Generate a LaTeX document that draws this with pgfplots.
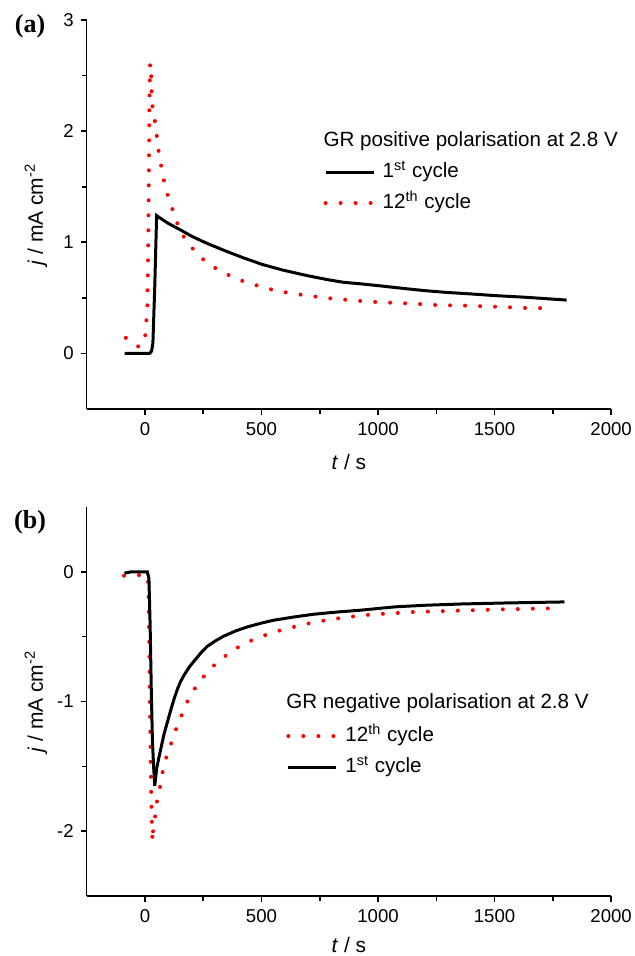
\documentclass[border=0pt]{standalone}
\usepackage{fontspec}
\setmainfont{Liberation Sans}
\newfontfamily\serifbf{Liberation Serif}
\usepackage{pgfplots}
\pgfplotsset{compat=1.18}

\pgfplotsset{
  cycleax/.style={
    width=262.2pt, height=194.5pt, scale only axis, clip mode=individual,
    axis lines=left, axis line style={-, line width=0.8pt},
    tick style={line width=0.8pt, black},
    tick align=outside, major tick length=3pt, minor tick length=2.5pt,
    xmin=-250, xmax=2000, xtick={0,500,1000,1500,2000}, minor x tick num=1,
    minor y tick num=1,
    /pgf/number format/assume math mode=true,
    /pgf/number format/set thousands separator={},
    tick label style={font=\fontsize{9.3}{11}\selectfont},
    label style={font=\fontsize{10.5}{12}\selectfont},
    xlabel={\textit{t} / s},
    ylabel={\textit{j} / mA cm\textsuperscript{-2}},
    y label style={at={(axis description cs:-0.097,0.5)}, anchor=center},
    legend image code/.code={\draw[#1] (0pt,0pt) -- (24pt,0pt);},
    legend style={draw=none, fill=none, inner xsep=0pt, inner ysep=0pt,
      row sep=0pt, column sep=1pt, font=\fontsize{10.3}{12}\selectfont,
      nodes={inner sep=2.5pt, text height=8pt, text depth=2.5pt}},
    legend cell align=left,
  },
}
\tikzset{
  first/.style={black, line width=1.5pt},
  twelfth/.style={red, line width=2pt, line cap=round, dash pattern=on 0pt off 7.5pt},
  gtitle/.style={anchor=west, inner sep=0pt, font=\fontsize{10.3}{12}\selectfont},
  plabel/.style={font=\serifbf\bfseries\fontsize{13}{15}\selectfont},
}

\begin{document}
\begin{tikzpicture}
% (a) positive polarisation
\begin{axis}[cycleax, at={(0pt,0pt)}, anchor=south west,
  ymin=-0.5, ymax=3, ytick={0,1,2,3},
  x label style={at={(axis description cs:0.5,-0.137)}, anchor=center},
  legend style={at={(axis description cs:0.451,0.650)}, anchor=north west},
]
\addplot[first] coordinates {
(-87,0) (-40,0) (0,0) (20,0) (28,0.02) (34,0.09) (42,0.6) (50,1.24)
(60,1.225) (100,1.17) (157,1.106) (200,1.055) (240,1.015) (278,0.98)
(348,0.92) (420,0.862) (504,0.80) (591,0.75) (696,0.70) (780,0.665)
(852,0.64) (930,0.625) (1000,0.61) (1130,0.58) (1200,0.565) (1287,0.55)
(1400,0.535) (1504,0.52) (1635,0.505) (1809,0.48)};
\addlegendentry{1\textsuperscript{st} cycle}
\addplot[twelfth] coordinates {
(-82,0.14) (-60,0.10) (-40,0.075) (-26,0.06) (-10,0.08) (0,0.13)
(10,0.4) (14,1.0) (17,1.7) (19,2.2) (22,2.61) (27,2.49) (29,2.35)
(32,2.22) (42,2.10) (50,1.97) (57,1.84) (67,1.72) (77,1.59) (93,1.46)
(110,1.34) (132,1.22) (148,1.106) (183,1.0) (226,0.89) (278,0.795)
(336,0.73) (391,0.67) (452,0.63) (513,0.59) (574,0.56) (635,0.54)
(696,0.52) (757,0.505) (817,0.49) (878,0.48) (939,0.47) (1009,0.46)
(1130,0.45) (1252,0.435) (1374,0.43) (1504,0.42) (1626,0.41) (1757,0.405)};
\addlegendentry{12\textsuperscript{th} cycle}
\node[gtitle] at (axis description cs:0.451,0.689) {GR positive polarisation at 2.8 V};
\node[plabel] at (axis description cs:-0.108,0.983) {(a)};
\end{axis}

% (b) negative polarisation
\begin{axis}[cycleax, at={(0pt,-243.5pt)}, anchor=south west,
  ymin=-2.5, ymax=0.5, ytick={-2,-1,0},
  x label style={at={(axis description cs:0.5,-0.125)}, anchor=center},
  legend style={at={(axis description cs:0.380,0.452)}, anchor=north west},
]
\addplot[twelfth] coordinates {
(-90,-0.03) (-60,-0.025) (0,-0.025) (12,-0.03) (15,-0.15) (18,-0.5)
(21,-1.0) (24,-1.4) (27,-1.75) (32,-2.08) (36,-1.97) (46,-1.86)
(53,-1.75) (67,-1.64) (77,-1.53) (93,-1.42) (113,-1.32) (134,-1.21)
(157,-1.107) (182,-1.0) (210,-0.91) (246,-0.82) (285,-0.74) (325,-0.675)
(382,-0.60) (430,-0.55) (489,-0.505) (550,-0.467) (610,-0.437)
(731,-0.386) (853,-0.352) (966,-0.33) (1150,-0.31) (1333,-0.30)
(1521,-0.29) (1780,-0.28)};
\addlegendentry{12\textsuperscript{th} cycle}
\addplot[first] coordinates {
(-88,-0.01) (-60,0) (0,0) (10,0) (17,-0.05) (22,-0.4) (27,-0.9)
(32,-1.3) (37,-1.5) (42,-1.65) (50,-1.52) (60,-1.43) (82,-1.25)
(110,-1.07) (125,-0.98) (140,-0.90) (153,-0.845) (170,-0.79) (190,-0.735)
(210,-0.69) (240,-0.625) (267,-0.575) (300,-0.535) (339,-0.495)
(390,-0.455) (439,-0.425) (500,-0.395) (553,-0.373) (640,-0.348)
(724,-0.327) (824,-0.31) (924,-0.296) (1073,-0.27) (1200,-0.258)
(1355,-0.248) (1550,-0.24) (1800,-0.232)};
\addlegendentry{1\textsuperscript{st} cycle}
\node[gtitle] at (axis description cs:0.380,0.495) {GR negative polarisation at 2.8 V};
\node[plabel] at (axis description cs:-0.108,0.962) {(b)};
\end{axis}
\pgfresetboundingbox
\path (-43.35pt,-273.5pt) rectangle (273.65pt,204.5pt);
\end{tikzpicture}
\end{document}
